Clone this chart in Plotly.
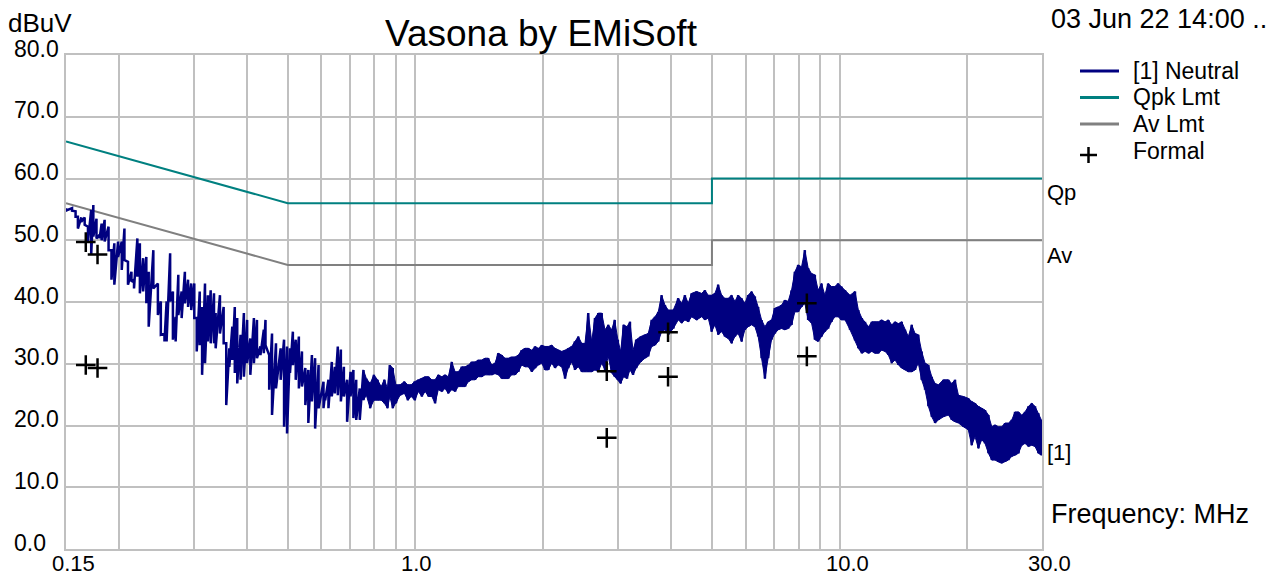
import math
import plotly.graph_objects as go

# ---- Neutral line scan: upper / lower extent of the sweep at each frequency (MHz, dBuV)
freq_mhz = [
    0.150, 0.155, 0.158, 0.160, 0.163, 0.166, 0.169, 0.172, 0.174, 0.177,
    0.180, 0.182, 0.185, 0.189, 0.192, 0.195, 0.199, 0.203, 0.206, 0.210,
    0.214, 0.217, 0.221, 0.224, 0.228, 0.232, 0.235, 0.241, 0.247, 0.251,
    0.256, 0.259, 0.264, 0.268, 0.272, 0.276, 0.281, 0.286, 0.291, 0.296,
    0.301, 0.305, 0.310, 0.314, 0.319, 0.324, 0.329, 0.335, 0.338, 0.346,
    0.353, 0.358, 0.364, 0.370, 0.375, 0.380, 0.387, 0.394, 0.401, 0.408,
    0.416, 0.423, 0.431, 0.439, 0.443, 0.452, 0.459, 0.469, 0.481, 0.490,
    0.498, 0.506, 0.514, 0.522, 0.531, 0.540, 0.550, 0.559, 0.570, 0.580,
    0.591, 0.607,
    0.6125, 0.6235, 0.635, 0.6455, 0.656, 0.667, 0.678, 0.690, 0.703, 0.714,
    0.725, 0.739, 0.754, 0.766, 0.782, 0.798, 0.814, 0.830, 0.845, 0.859,
    0.870, 0.884, 0.899, 0.920, 0.942, 0.959, 0.977, 0.996, 1.016, 1.035,
    1.054, 1.073, 1.093, 1.112, 1.132, 1.154, 1.174, 1.195, 1.218, 1.240,
    1.262, 1.286, 1.309, 1.333, 1.357, 1.382, 1.407, 1.433, 1.459, 1.485,
    1.513, 1.540, 1.568, 1.597, 1.626, 1.655, 1.686, 1.717, 1.748, 1.780,
    1.813, 1.845, 1.880, 1.914, 1.948, 1.985, 2.020, 2.057, 2.095, 2.133,
    2.171, 2.212, 2.252, 2.292, 2.335, 2.377, 2.420, 2.466, 2.510, 2.555,
    2.603, 2.650, 2.698,
    2.748, 2.798, 2.848, 2.901, 2.949, 3.000, 3.046, 3.096, 3.153, 3.204,
    3.257, 3.315, 3.395, 3.476, 3.538, 3.605, 3.670, 3.736, 3.805, 3.874,
    3.944, 4.053, 4.164, 4.242, 4.318, 4.396, 4.478, 4.601, 4.728, 4.813,
    4.900, 4.991, 5.081, 5.173, 5.270, 5.364, 5.461, 5.563, 5.663, 5.765,
    5.873, 5.979, 6.087, 6.200, 6.312, 6.426, 6.546, 6.664, 6.784, 6.911,
    7.035, 7.162, 7.296, 7.428, 7.562, 7.703, 7.842, 7.984, 8.133, 8.279,
    8.429, 8.586, 8.741, 8.899, 9.065, 9.228, 9.395, 9.570, 9.743, 9.919,
    10.10, 10.30, 10.58, 10.87, 11.07, 11.28, 11.48, 11.70, 11.91, 12.12,
    12.34, 12.57, 12.80, 13.03, 13.27, 13.51, 13.76, 14.01, 14.26, 14.52,
    14.79, 15.06, 15.33, 15.61, 15.90, 16.19, 16.49, 16.79, 17.10, 17.56,
    18.05, 18.38, 18.71, 19.06, 19.58, 20.11, 20.48, 20.86, 21.24, 21.63,
    22.02, 22.43, 22.84, 23.25, 23.68, 24.11, 24.55, 25.00, 25.46, 25.92,
    26.40, 26.88, 27.36, 27.87, 28.38, 28.89, 29.42, 29.90,
]
neutral_hi = [
    55.2, 55.2, 54.7, 53.8, 53.7, 53.7, 52.2, 54.9, 55.7, 53.5,
    50.9, 52.7, 53.3, 52.2, 48.4, 49.5, 49.8, 49.8, 51.9, 46.5,
    44.9, 43.6, 50.3, 49.5, 47.1, 47.3, 44.9, 48.4, 43.0, 40.1,
    34.9, 40.1, 47.9, 41.7, 37.6, 44.4, 41.7, 44.9, 43.6, 43.0,
    43.0, 37.4, 41.7, 39.2, 43.0, 41.1, 41.9, 41.4, 38.2, 41.1,
    39.2, 33.3, 32.5, 36.0, 39.2, 37.4, 34.7, 38.2, 37.1, 34.1,
    37.4, 37.1, 32.8, 35.5, 37.1, 31.4, 34.9, 33.3, 32.5, 33.9,
    32.8, 32.5, 35.2, 33.9, 34.4, 32.0, 29.3, 29.0, 31.4, 30.9,
    29.8, 27.1,
    25.2, 27.4, 30.3, 29.5, 32.8, 32.3, 29.5, 27.4, 28.7, 29.0,
    27.4, 26.0, 29.0, 27.6, 26.8, 28.2, 27.4, 26.3, 27.4, 26.0,
    29.8, 29.3, 26.6, 26.6, 27.1, 26.6, 26.6, 27.1, 27.4, 27.6,
    27.9, 27.9, 27.4, 27.4, 28.2, 27.9, 28.2, 27.9, 30.3, 28.7,
    28.7, 29.5, 29.5, 29.8, 30.3, 30.3, 30.6, 30.6, 30.9, 30.9,
    29.8, 30.1, 31.7, 31.4, 30.9, 30.9, 31.1, 31.1, 31.4, 32.2,
    32.5, 32.5, 32.2, 32.8, 32.5, 33.0, 32.8, 32.8, 33.0, 32.5,
    32.2, 32.0, 32.2, 32.5, 32.8, 33.6, 34.4, 33.3, 33.3, 38.2,
    33.6, 37.4, 38.2,
    38.2, 35.5, 36.3, 35.5, 37.1, 33.9, 32.0, 36.3, 36.0, 36.8,
    32.2, 33.9, 34.4, 34.7, 34.9, 37.1, 37.6, 38.4, 41.1, 39.5,
    38.7, 38.7, 40.6, 39.8, 41.1, 39.8, 41.4, 41.7, 41.4, 41.9,
    41.1, 41.1, 41.4, 42.8, 41.1, 40.6, 40.6, 41.1, 40.1, 41.1,
    40.6, 39.8, 41.1, 41.7, 40.9, 39.2, 37.1, 36.0, 36.8, 37.1,
    39.0, 39.2, 39.5, 40.3, 40.1, 41.9, 44.9, 46.0, 45.7, 48.4,
    45.5, 44.6, 44.4, 41.9, 43.0, 41.1, 43.0, 42.5, 42.5, 43.0,
    42.5, 41.9, 41.1, 41.7, 38.7, 37.4, 36.8, 36.0, 36.8, 36.8,
    36.8, 37.1, 36.8, 37.1, 36.3, 36.8, 36.5, 36.8, 35.5, 34.4,
    36.3, 34.9, 34.7, 32.0, 30.1, 29.8, 27.9, 26.8, 26.6, 27.4,
    27.4, 26.8, 27.4, 24.9, 24.7, 24.4, 23.9, 23.6, 23.1, 22.8,
    22.5, 21.7, 19.8, 20.1, 19.8, 19.8, 20.4, 20.4, 20.9, 22.2,
    22.2, 21.7, 22.2, 23.1, 23.6, 23.1, 22.0, 20.9,
]
neutral_lo = [
    54.8, 54.8, 53.8, 51.9, 53.0, 52.5, 49.8, 47.6, 50.6, 50.3,
    50.3, 50.0, 49.8, 48.4, 43.6, 42.8, 47.3, 45.2, 46.8, 42.8,
    43.3, 42.2, 44.1, 41.4, 41.7, 39.8, 36.0, 42.2, 37.9, 34.7,
    33.6, 33.6, 40.1, 33.9, 33.6, 37.9, 37.4, 39.8, 39.2, 38.7,
    37.4, 32.0, 33.0, 28.2, 30.1, 33.6, 33.3, 33.3, 32.5, 34.9,
    33.3, 23.3, 29.5, 30.6, 28.5, 26.8, 27.4, 27.9, 30.1, 28.2,
    30.1, 30.9, 31.4, 31.7, 33.0, 25.8, 21.7, 26.0, 27.4, 19.8,
    18.7, 28.5, 29.8, 27.4, 26.0, 26.3, 23.3, 20.4, 23.9, 19.5,
    22.8, 22.8,
    24.1, 22.8, 24.7, 25.2, 24.9, 23.9, 24.7, 20.6, 24.7, 21.2,
    20.9, 20.9, 24.1, 24.9, 22.8, 24.1, 24.1, 24.1, 23.6, 22.8,
    24.7, 22.8, 23.6, 24.9, 25.2, 24.1, 24.7, 24.1, 25.5, 24.7,
    25.5, 24.7, 24.7, 23.6, 25.8, 25.5, 26.0, 25.2, 25.8, 25.5,
    26.3, 26.3, 26.3, 27.1, 27.4, 27.4, 27.9, 27.9, 28.2, 28.2,
    28.2, 28.4, 28.2, 27.6, 27.6, 27.6, 28.2, 28.2, 28.7, 29.8,
    29.5, 29.5, 28.7, 29.3, 29.8, 30.1, 29.0, 29.0, 30.1, 29.3,
    29.8, 29.5, 27.6, 29.3, 30.3, 29.0, 29.5, 28.7, 28.7, 28.7,
    28.7, 29.0, 28.7,
    30.1, 29.0, 31.2, 28.5, 27.9, 27.4, 26.8, 27.9, 27.6, 29.0,
    28.2, 29.3, 30.3, 30.9, 31.2, 32.8, 33.0, 33.6, 35.2, 35.5,
    34.7, 35.7, 37.1, 36.6, 37.1, 36.8, 37.6, 37.1, 37.6, 37.1,
    37.4, 35.2, 36.3, 34.7, 35.2, 34.4, 34.1, 33.3, 34.4, 34.9,
    33.6, 35.5, 36.0, 36.3, 36.0, 34.4, 30.9, 27.6, 30.9, 33.9,
    34.9, 35.5, 35.7, 35.5, 35.7, 36.3, 38.4, 38.4, 39.2, 39.8,
    37.1, 36.6, 33.9, 33.6, 34.4, 35.2, 35.7, 36.8, 37.6, 37.6,
    37.1, 37.1, 35.5, 33.8, 32.5, 31.7, 32.0, 31.7, 32.0, 31.7,
    31.7, 32.2, 32.0, 31.4, 30.1, 30.6, 29.8, 29.3, 29.0, 28.7,
    28.7, 29.0, 30.1, 27.4, 25.8, 23.1, 21.4, 20.4, 20.9, 21.4,
    21.7, 20.9, 20.6, 20.4, 19.8, 19.3, 16.8, 18.2, 16.3, 17.7,
    17.1, 15.5, 14.4, 14.4, 14.1, 13.9, 14.1, 14.4, 15.0, 15.2,
    15.5, 16.8, 17.1, 16.6, 16.8, 16.6, 15.5, 15.2,
]

# ---- Limit lines (MHz, dBuV)
limit_freq = [0.15, 0.5, 5.0, 5.0, 30.0]
qpk_limit = [66.0, 56.0, 56.0, 60.0, 60.0]
av_limit = [56.0, 46.0, 46.0, 50.0, 50.0]

# ---- Formal (final) measurement points
formal_freq = [0.167, 0.167, 0.178, 0.178, 2.825, 2.825, 3.94, 3.94, 8.37, 8.37]
formal_level = [49.7, 29.8, 47.7, 29.3, 28.8, 18.0, 35.1, 27.9, 39.8, 31.2]

# ---- Axis ticks
x_major = [0.15, 1.0, 10.0, 30.0]
x_major_text = ["0.15", "1.0", "10.0", "30.0"]
x_minor = [0.2, 0.3, 0.4, 0.5, 0.6, 0.7, 0.8, 0.9,
           2, 3, 4, 5, 6, 7, 8, 9, 20]
y_ticks = [0, 10, 20, 30, 40, 50, 60, 70, 80]

NAVY = "#000080"
TEAL = "#008080"
GREY = "#808080"
GRID = "#c0c0c0"
FONT = "Arial, Liberation Sans, sans-serif"

W, H = 1288, 577
ML, MR, MT, MB = 66, 246, 55, 28
PW, PH = W - ML - MR, H - MT - MB


def xp(px):
    return (px - ML) / PW


def yp(py):
    return (H - MB - py) / PH


# sweep drawn as a dense zig-zag between the upper and lower extent
line_x, line_y = [], []
for f, hi, lo in zip(freq_mhz, neutral_hi, neutral_lo):
    line_x += [f, f]
    line_y += [hi, lo]

band_idx = [i for i, f in enumerate(freq_mhz) if f >= 0.75]
band_x = [freq_mhz[i] for i in band_idx] + [freq_mhz[i] for i in reversed(band_idx)]
band_y = [neutral_hi[i] for i in band_idx] + [neutral_lo[i] for i in reversed(band_idx)]

fig = go.Figure()
fig.add_trace(go.Scatter(x=limit_freq, y=qpk_limit, mode="lines",
                         line=dict(color=TEAL, width=2), hoverinfo="skip"))
fig.add_trace(go.Scatter(x=limit_freq, y=av_limit, mode="lines",
                         line=dict(color=GREY, width=2), hoverinfo="skip"))
fig.add_trace(go.Scatter(x=band_x, y=band_y, mode="lines", fill="toself",
                         fillcolor=NAVY, line=dict(color=NAVY, width=1),
                         hoverinfo="skip"))
fig.add_trace(go.Scatter(x=line_x, y=line_y, mode="lines",
                         line=dict(color=NAVY, width=2.5)))
fig.add_trace(go.Scatter(x=formal_freq, y=formal_level, mode="markers",
                         marker=dict(symbol="cross-thin", size=14,
                                     line=dict(color="black", width=2.5))))

fig.update_xaxes(
    type="log", range=[math.log10(0.15), math.log10(30.0)],
    tickvals=x_major, showticklabels=False, ticks="",
    showgrid=True, gridcolor=GRID, gridwidth=2, zeroline=False,
    showline=True, linecolor=GRID, linewidth=2, mirror=True,
    automargin=False,
    minor=dict(tickvals=x_minor, showgrid=True, gridcolor=GRID,
               gridwidth=2, ticks=""),
)
fig.update_yaxes(
    range=[0, 80], tickvals=y_ticks, showticklabels=False, ticks="",
    showgrid=True, gridcolor=GRID, gridwidth=2, zeroline=False,
    showline=True, linecolor=GRID, linewidth=2, mirror=True,
    automargin=False,
)

ann = []


def label(text, x, y, size, xanchor="left", **kw):
    ann.append(dict(text=text, x=x, y=y, xref="paper", yref="paper",
                    xanchor=xanchor, yanchor="middle", showarrow=False,
                    font=dict(family=FONT, size=size, color="black"), **kw))


# tick labels: y values left-aligned in the margin, sitting just above their
# gridline; x values starting a little left of their gridline
for v in y_ticks:
    ann.append(dict(text="%.1f" % v, x=xp(12), y=v, xref="paper", yref="y",
                    xanchor="left", yanchor="middle", yshift=6.5,
                    showarrow=False,
                    font=dict(family=FONT, size=23, color="black")))
for v, t in zip(x_major, x_major_text):
    ann.append(dict(text=t, x=math.log10(v), y=yp(563), xref="x", yref="paper",
                    xanchor="left", yanchor="middle", xshift=-16,
                    showarrow=False,
                    font=dict(family=FONT, size=22, color="black")))

label("Vasona by EMiSoft", xp(541), yp(34), 37, xanchor="center")
label("dBuV", xp(6), yp(23), 26)
label("03 Jun 22 14:00 ..", xp(1049), yp(19), 27)
label("Frequency: MHz", xp(1049), yp(514), 27)

# legend
legend_rows = [("[1] Neutral", NAVY, 71), ("Qpk Lmt", TEAL, 97.5),
               ("Av Lmt", GREY, 124), ("Formal", None, 150.5)]
shapes = []
for text, color, ypix in legend_rows:
    label(text, xp(1131), yp(ypix), 23)
    if color:
        shapes.append(dict(type="line", xref="paper", yref="paper",
                           x0=xp(1080), x1=xp(1119), y0=yp(ypix), y1=yp(ypix),
                           line=dict(color=color, width=3)))
shapes.append(dict(type="line", xref="paper", yref="paper",
                   x0=xp(1080), x1=xp(1097), y0=yp(155), y1=yp(155),
                   line=dict(color="black", width=2.5)))
shapes.append(dict(type="line", xref="paper", yref="paper",
                   x0=xp(1088.5), x1=xp(1088.5), y0=yp(147), y1=yp(163),
                   line=dict(color="black", width=2.5)))

# trace labels at the right edge
for text, level, shift in [("Qp", qpk_limit[-1], -14), ("Av", av_limit[-1], -15),
                           ("[1]", neutral_lo[-1], 3)]:
    ann.append(dict(text=text, x=1.0, y=level, xref="paper", yref="y",
                    xanchor="left", yanchor="middle", xshift=3, yshift=shift,
                    showarrow=False,
                    font=dict(family=FONT, size=22, color="black")))

fig.update_layout(
    width=W, height=H,
    margin=dict(l=ML, r=MR, t=MT, b=MB, pad=0, autoexpand=False),
    paper_bgcolor="white", plot_bgcolor="white",
    showlegend=False, annotations=ann, shapes=shapes,
    font=dict(family=FONT, color="black"),
)

fig.write_html("out.html")
